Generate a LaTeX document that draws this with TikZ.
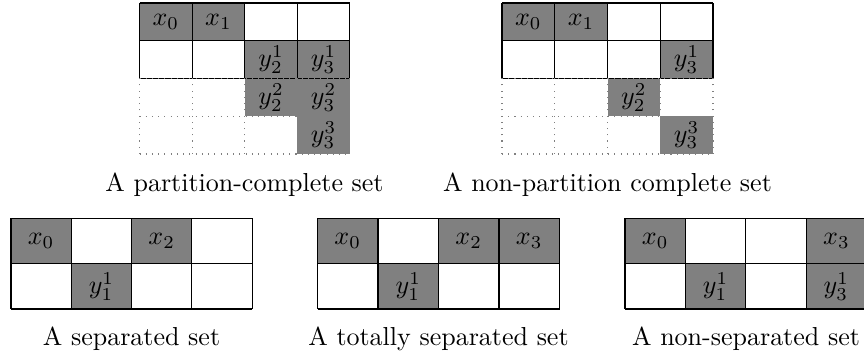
\documentclass[tikz,border=0pt]{standalone}
\begin{document}
\begin{tikzpicture}[scale=0.676,lbl/.style={inner sep=0pt}]
\useasboundingbox (0,0) rectangle (17.28,7.16);

% partition-complete set
\begin{scope}[shift={(2.79,4.08)},xscale=1.052,yscale=0.755]
\fill[gray] (0,3) rectangle (2,4);
\fill[gray] (2,1) rectangle (4,3);
\fill[gray] (3,0) rectangle (4,1);
\draw (0,2) grid (4,4);
\draw[dotted,gray] (0,0) grid (4,2);
\node[lbl] (pcxa) at (0.5,3.5) {$x_0$};
\node[lbl] (pcxb) at (1.5,3.5) {$x_1$};
\node[lbl] (pcya) at (2.5,2.5) {$y_2^1$};
\node[lbl] (pcyb) at (3.5,2.5) {$y_3^1$};
\node[lbl] (pcyc) at (2.5,1.5) {$y_2^2$};
\node[lbl] (pcyd) at (3.5,1.5) {$y_3^2$};
\node[lbl] (pcye) at (3.5,0.5) {$y_3^3$};
\end{scope}
\node (pccap) at (4.89,3.46) {A partition-complete set};

% non-partition complete set
\begin{scope}[shift={(10.04,4.08)},xscale=1.055,yscale=0.755]
\fill[gray] (0,3) rectangle (2,4);
\fill[gray] (3,2) rectangle (4,3);
\fill[gray] (2,1) rectangle (3,2);
\fill[gray] (3,0) rectangle (4,1);
\draw (0,2) grid (4,4);
\draw[dotted,gray] (0,0) grid (4,2);
\node[lbl] (npxa) at (0.5,3.5) {$x_0$};
\node[lbl] (npxb) at (1.5,3.5) {$x_1$};
\node[lbl] (npya) at (3.5,2.5) {$y_3^1$};
\node[lbl] (npyb) at (2.5,1.5) {$y_2^2$};
\node[lbl] (npyc) at (3.5,0.5) {$y_3^3$};
\end{scope}
\node (npcap) at (12.15,3.46) {A non-partition complete set};

% separated set
\begin{scope}[shift={(0.22,0.98)},xscale=1.206,yscale=0.905]
\fill[gray] (0,1) rectangle (1,2);
\fill[gray] (2,1) rectangle (3,2);
\fill[gray] (1,0) rectangle (2,1);
\draw (0,0) grid (4,2);
\node[lbl] (sxa) at (0.5,1.5) {$x_0$};
\node[lbl] (sxb) at (2.5,1.5) {$x_2$};
\node[lbl] (sya) at (1.5,0.5) {$y_1^1$};
\end{scope}
\node (scap) at (2.63,0.38) {A separated set};

% totally separated set
\begin{scope}[shift={(6.35,0.98)},xscale=1.21,yscale=0.905]
\fill[gray] (0,1) rectangle (1,2);
\fill[gray] (2,1) rectangle (4,2);
\fill[gray] (1,0) rectangle (2,1);
\draw (0,0) grid (4,2);
\node[lbl] (txa) at (0.5,1.5) {$x_0$};
\node[lbl] (txb) at (2.5,1.5) {$x_2$};
\node[lbl] (txc) at (3.5,1.5) {$x_3$};
\node[lbl] (tya) at (1.5,0.5) {$y_1^1$};
\end{scope}
\node (tcap) at (8.77,0.38) {A totally separated set};

% non-separated set
\begin{scope}[shift={(12.5,0.98)},xscale=1.208,yscale=0.905]
\fill[gray] (0,1) rectangle (1,2);
\fill[gray] (3,0) rectangle (4,2);
\fill[gray] (1,0) rectangle (2,1);
\draw (0,0) grid (4,2);
\node[lbl] (nxa) at (0.5,1.5) {$x_0$};
\node[lbl] (nxb) at (3.5,1.5) {$x_3$};
\node[lbl] (nya) at (1.5,0.5) {$y_1^1$};
\node[lbl] (nyb) at (3.5,0.5) {$y_3^1$};
\end{scope}
\node (ncap) at (14.92,0.38) {A non-separated set};
\end{tikzpicture}
\end{document}
